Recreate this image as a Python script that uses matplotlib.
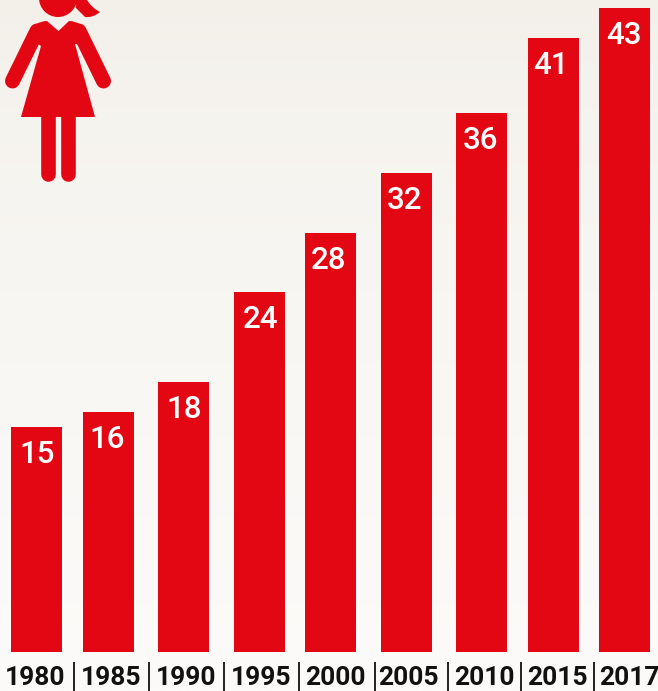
import numpy as np
import matplotlib
matplotlib.use('Agg')
import matplotlib.pyplot as plt
from matplotlib.path import Path
from matplotlib.patches import PathPatch, Circle

years = ['1980', '1985', '1990', '1995', '2000', '2005', '2010', '2015', '2017']
values = [15, 16, 18, 24, 28, 32, 36, 41, 43]

# layout, in pixels of the 658x691 picture
W, H = 658, 691
bar_centres = [36.5, 108.5, 183.5, 259.5, 330.5, 406.5, 481.5, 553.5, 624.5]
value_centres = [37, 107, 184, 261, 329, 405, 480, 551, 624]
label_centres = [35, 111, 186, 261, 335, 408, 484, 557, 629]
separators = [74, 149, 224, 299, 375, 448, 521, 594]
RED = '#e30613'
BASE_Y = 652
PX_PER_UNIT = 14.98

fig = plt.figure(figsize=(W / 100, H / 100), dpi=100)

# background, slightly warmer at the top
bg = fig.add_axes([0, 0, 1, 1], zorder=0)
top_col = np.array([0xf3, 0xf0, 0xea]) / 255
bot_col = np.array([0xfc, 0xfb, 0xf9]) / 255
t = np.linspace(0, 1, 256)[:, None, None] ** 0.7
bg.imshow(top_col * (1 - t) + bot_col * t, aspect='auto', extent=[0, 1, 0, 1])
bg.axis('off')

# bars
ax = fig.add_axes([0, 0, 1, 1], zorder=1)
ax.patch.set_alpha(0)
ax.set_xlim(0, W)
ax.set_ylim(-(H - BASE_Y) / PX_PER_UNIT, BASE_Y / PX_PER_UNIT)
ax.axis('off')
ax.bar(bar_centres, values, width=51, color=RED, linewidth=0)
for x, lx, v in zip(bar_centres, value_centres, values):
    ax.annotate(str(v), (x, v), xytext=((lx - x) * 0.72, -27.5 * 0.72), textcoords='offset points',
                ha='center', va='center', color='white', fontsize=22.5, fontweight='medium',
                family='Roboto')

# pixel overlay: year labels, separators, icon
ov = fig.add_axes([0, 0, 1, 1], zorder=2)
ov.patch.set_alpha(0)
ov.set_xlim(0, W)
ov.set_ylim(H, 0)
ov.axis('off')

for x, y in zip(label_centres, years):
    ov.text(x, 685, y, ha='center', va='baseline', fontsize=19,
            fontweight='bold', family='Roboto', color='#111111')
for x in separators:
    ov.plot([x, x], [662, 691], color='#222222', lw=1.4, solid_capstyle='butt')

# woman icon
ov.add_patch(Circle((58, -2), 19, color=RED, lw=0))
tail = [(75, 0), (87, 0), (92, 8), (100, 12), (93, 18), (85, 17), (76, 8), (75, 0)]
tail_codes = [Path.MOVETO, Path.LINETO, Path.CURVE3, Path.CURVE3, Path.CURVE3, Path.CURVE3,
              Path.LINETO, Path.CLOSEPOLY]
ov.add_patch(PathPatch(Path(tail, tail_codes), color=RED, lw=0))

body = [(47, 21), (58.5, 31), (69, 21), (82, 21), (89, 35), (78, 44), (75, 44),
        (95, 117), (21, 117), (41, 46), (38, 44), (27, 35), (34, 21), (47, 21), (47, 21)]
body_codes = [Path.MOVETO, Path.LINETO, Path.LINETO, Path.CURVE3, Path.CURVE3, Path.LINETO,
              Path.LINETO, Path.LINETO, Path.LINETO, Path.LINETO, Path.LINETO, Path.LINETO,
              Path.CURVE3, Path.CURVE3, Path.CLOSEPOLY]
ov.add_patch(PathPatch(Path(body, body_codes), color=RED, lw=0))

limb = dict(color=RED, solid_capstyle='round', lw=14.6 * 0.72)
ov.plot([48, 48], [115, 173.5], **limb)
ov.plot([67.5, 67.5], [115, 173.5], **limb)
arm = dict(color=RED, solid_capstyle='round', lw=15 * 0.72)
ov.plot([37, 12.5], [31, 81], **arm)
ov.plot([79, 103.5], [31, 81], **arm)

fig.savefig('out.png', dpi=100)
